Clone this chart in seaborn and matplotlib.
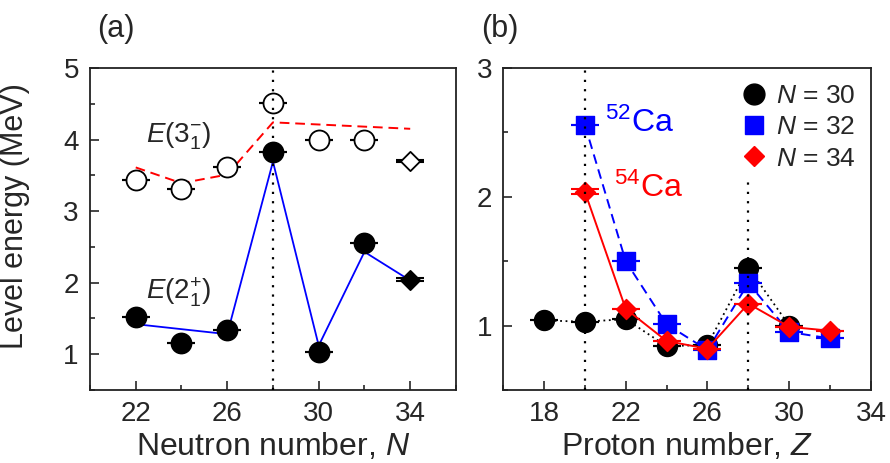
import numpy as np
import pandas as pd
import matplotlib
matplotlib.use("Agg")
import matplotlib.pyplot as plt
from matplotlib.lines import Line2D
from matplotlib.ticker import MultipleLocator
import seaborn as sns

# ---------------- data ----------------
# Panel (a): Ca isotopes vs neutron number
N_circ = [22, 24, 26, 28, 30, 32]
E2_circ = [1.52, 1.16, 1.34, 3.83, 1.03, 2.56]
E3_circ = [3.44, 3.31, 3.61, 4.51, 4.00, 4.00]
N_diam = [34]
E2_diam = [2.04]
E3_diam = [3.70]
E2_err_circ = [0, 0, 0, 0, 0, 0]
E3_err_circ = [0, 0, 0, 0, 0, 0]
E2_err_diam = [0.02]
E3_err_diam = [0.02]

N_th2 = [22, 26, 28, 30, 32, 34]
E2_th = [1.42, 1.28, 3.69, 1.12, 2.43, 2.03]
N_th3 = [22, 24, 26, 28, 34]
E3_th = [3.61, 3.39, 3.51, 4.24, 4.15]

# Panel (b): isotones vs proton number
Z30 = [18, 20, 22, 24, 26, 28, 30]
E30 = [1.04, 1.03, 1.05, 0.84, 0.85, 1.45, 1.00]
err30 = [0, 0, 0, 0, 0, 0, 0]
Z32 = [20, 22, 24, 26, 28, 30, 32]
E32 = [2.56, 1.50, 1.01, 0.81, 1.33, 0.95, 0.90]
err32 = [0, 0, 0, 0, 0, 0, 0]
Z34 = [20, 22, 24, 26, 28, 30, 32]
E34 = [2.04, 1.13, 0.88, 0.82, 1.17, 0.99, 0.96]
err34 = [0.02, 0, 0, 0, 0, 0, 0]

legend_labels = ["$N$ = 30", "$N$ = 32", "$N$ = 34"]

# ---------------- style ----------------
sns.set_theme(style="ticks")
plt.rcParams["font.family"] = ["Liberation Sans", "DejaVu Sans"]
plt.rcParams["mathtext.fontset"] = "custom"
plt.rcParams["mathtext.rm"] = "Liberation Sans"
plt.rcParams["mathtext.it"] = "Liberation Sans:italic"
plt.rcParams["mathtext.bf"] = "Liberation Sans:bold"
plt.rcParams["axes.linewidth"] = 1.3

BLUE = "#0000ff"
RED = "#ff0000"
BLACK = "#000000"

fig = plt.figure(figsize=(8.9, 4.63), dpi=100)
axA = fig.add_axes([0.1011, 0.1577, 0.4112, 0.6955])
axB = fig.add_axes([0.5652, 0.1577, 0.4135, 0.6955])

CAP = 10.4
MS = 14.4

def caps(ax, x, y, e, color, z):
    ax.errorbar(x, y, yerr=e, fmt="none", ecolor=color, capsize=CAP,
                capthick=1.5, elinewidth=1.5, zorder=z)

# ---------------- panel (a) ----------------
dth2 = pd.DataFrame({"N": N_th2, "E": E2_th})
dth3 = pd.DataFrame({"N": N_th3, "E": E3_th})
sns.lineplot(data=dth2, x="N", y="E", ax=axA, color=BLUE, lw=1.3,
             sort=False, estimator=None, zorder=2)
sns.lineplot(data=dth3, x="N", y="E", ax=axA, color=RED, lw=1.4,
             sort=False, estimator=None, zorder=2, dashes=False)
axA.lines[-1].set_dashes((5, 3))

caps(axA, N_circ, E3_circ, E3_err_circ, BLACK, 3)
caps(axA, N_circ, E2_circ, E2_err_circ, BLACK, 3)
caps(axA, N_diam, E3_diam, E3_err_diam, BLACK, 3)
caps(axA, N_diam, E2_diam, E2_err_diam, BLACK, 3)

sns.scatterplot(x=N_circ, y=E3_circ, ax=axA, marker="o", s=MS**2,
                color="white", edgecolor=BLACK, linewidth=1.3, zorder=4)
sns.scatterplot(x=N_circ, y=E2_circ, ax=axA, marker="o", s=MS**2,
                color=BLACK, edgecolor=BLACK, linewidth=1.3, zorder=4)
sns.scatterplot(x=N_diam, y=E3_diam, ax=axA, marker="D", s=9.8**2,
                color="white", edgecolor=BLACK, linewidth=1.3, zorder=4)
sns.scatterplot(x=N_diam, y=E2_diam, ax=axA, marker="D", s=9.8**2,
                color=BLACK, edgecolor=BLACK, linewidth=1.3, zorder=4)

axA.axvline(28, color=BLACK, lw=1.6, linestyle=(0, (1, 3.2)), zorder=6)

axA.text(22.45, 4.04, r"$E$(3$^{-}_{1}$)", fontsize=20, ha="left", va="center")
axA.text(22.45, 1.87, r"$E$(2$^{+}_{1}$)", fontsize=20, ha="left", va="center")

axA.set_xlim(20, 36)
axA.set_ylim(0.5, 5)
axA.set_xticks([22, 26, 30, 34])
axA.xaxis.set_minor_locator(MultipleLocator(2))
axA.set_yticks([1, 2, 3, 4, 5])
axA.yaxis.set_minor_locator(MultipleLocator(0.5))
axA.set_xlabel("Neutron number, $N$", fontsize=23, labelpad=3)
axA.set_ylabel("Level energy (MeV)", fontsize=22)
axA.yaxis.set_label_coords(-0.165, 0.54)
axA.text(0.07, 1.12, "(a)", transform=axA.transAxes, fontsize=22,
         ha="center", va="center")

# ---------------- panel (b) ----------------
d30 = pd.DataFrame({"Z": Z30, "E": E30})
d32 = pd.DataFrame({"Z": Z32, "E": E32})
d34 = pd.DataFrame({"Z": Z34, "E": E34})

sns.lineplot(data=d30, x="Z", y="E", ax=axB, color=BLACK, lw=1.3,
             sort=False, estimator=None, zorder=3)
axB.lines[-1].set_linestyle((0, (1, 2)))
caps(axB, Z30, E30, err30, BLACK, 3)
sns.scatterplot(data=d30, x="Z", y="E", ax=axB, marker="o", s=MS**2,
                color=BLACK, edgecolor=BLACK, linewidth=1.0, zorder=3)

sns.lineplot(data=d32, x="Z", y="E", ax=axB, color=BLUE, lw=1.4,
             sort=False, estimator=None, zorder=4)
axB.lines[-1].set_dashes((5, 3))
caps(axB, Z32, E32, err32, BLUE, 4)
sns.scatterplot(data=d32, x="Z", y="E", ax=axB, marker="s", s=13**2,
                color=BLUE, edgecolor=BLUE, linewidth=1.0, zorder=4)

sns.lineplot(data=d34, x="Z", y="E", ax=axB, color=RED, lw=1.4,
             sort=False, estimator=None, zorder=5)
caps(axB, Z34, E34, err34, RED, 5)
sns.scatterplot(data=d34, x="Z", y="E", ax=axB, marker="D", s=10.2**2,
                color=RED, edgecolor=RED, linewidth=1.0, zorder=5)

axB.axvline(20, color=BLACK, lw=1.6, linestyle=(0, (1, 3.2)), zorder=6)
axB.axvline(28, ymax=0.66, color=BLACK, lw=1.6, linestyle=(0, (1, 3.2)), zorder=6)

axB.text(21.0, 2.5, r"$^{52}$Ca", color=BLUE, fontsize=23, ha="left", va="baseline")
axB.text(21.45, 2.0, r"$^{54}$Ca", color=RED, fontsize=23, ha="left", va="baseline")

handles = [
    Line2D([], [], marker="o", color=BLACK, linestyle="none", markersize=15),
    Line2D([], [], marker="s", color=BLUE, linestyle="none", markersize=13),
    Line2D([], [], marker="D", color=RED, linestyle="none", markersize=10.5),
]
axB.legend(handles, legend_labels, loc="upper right", frameon=False,
           fontsize=19, handlelength=1.0, handletextpad=0.3,
           labelspacing=0.28, borderaxespad=0.3, borderpad=0.3)

axB.set_xlim(16, 34)
axB.set_ylim(0.5, 3)
axB.set_xticks([18, 22, 26, 30, 34])
axB.xaxis.set_minor_locator(MultipleLocator(2))
axB.set_yticks([1, 2, 3])
axB.yaxis.set_minor_locator(MultipleLocator(0.5))
axB.set_xlabel("Proton number, $Z$", fontsize=23, labelpad=3)
axB.set_ylabel("")
axB.text(-0.01, 1.12, "(b)", transform=axB.transAxes, fontsize=22,
         ha="center", va="center")

for ax in (axA, axB):
    ax.tick_params(which="both", direction="in", top=False, right=False,
                   labelsize=20, width=1.2)
    ax.tick_params(which="major", length=6.5, pad=8)
    ax.tick_params(which="minor", length=3.8)
    for s in ax.spines.values():
        s.set_visible(True)
        s.set_linewidth(1.3)
        s.set_color("#222222")

fig.savefig("out.png", dpi=100)
